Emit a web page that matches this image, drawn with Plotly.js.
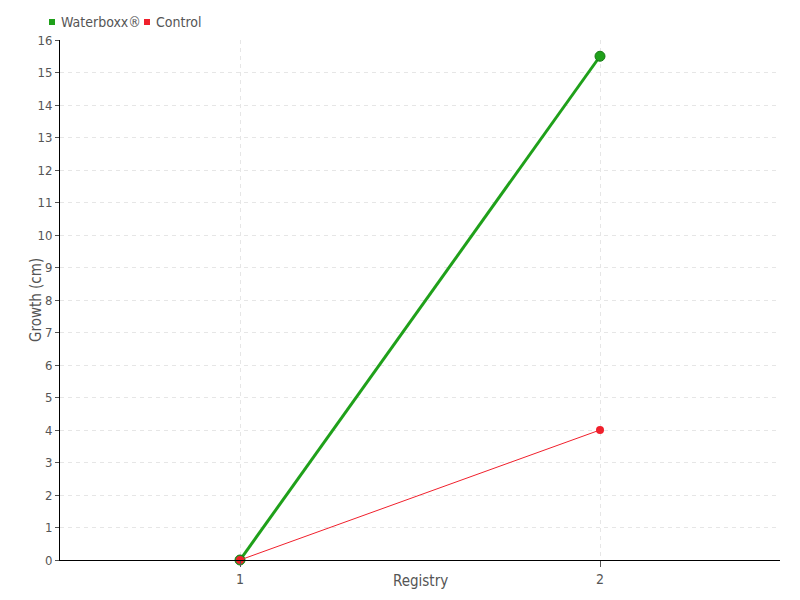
<!DOCTYPE html>
<html><head><meta charset="utf-8">
<script src="https://cdn.plot.ly/plotly-3.0.1.min.js"></script>
<style>html,body{margin:0;padding:0;background:#fff}#chart{width:800px;height:600px}</style>
</head><body><div id="chart"></div>
<script>
const registry = ['1', '2'];
const waterboxx = [0, 15.5];
const control = [0, 4];
const seriesNames = ['Waterboxx®', 'Control'];
const yTicks = [0,1,2,3,4,5,6,7,8,9,10,11,12,13,14,15,16];
const xTitle = 'Registry';
const yTitle = 'Growth (cm)';

const green = '#1fa01a';
const red = '#f0202c';
const colors = [green, red];
const fontFam = '"Liberation Sans Narrow", "DejaVu Sans Condensed", sans-serif';

const traces = [
  {x: registry, y: waterboxx, type: 'scatter', mode: 'lines+markers', name: seriesNames[0],
   line: {color: green, width: 3}, marker: {color: green, size: 10, line: {color: '#177a14', width: 1}},
   showlegend: false, cliponaxis: false},
  {x: registry, y: control, type: 'scatter', mode: 'lines+markers', name: seriesNames[1],
   line: {color: red, width: 1}, marker: {color: red, size: 8},
   showlegend: false, cliponaxis: false}
];

// custom compact legend (text from seriesNames)
const legendX = [59, 154];   // pixel x of legend text starts
const W = 800, H = 600, ML = 60, MR = 20, MT = 40, MB = 40;
const pw = W - ML - MR, ph = H - MT - MB;
const px2x = p => (p - ML) / pw;
const py2y = p => (H - MB - p) / ph;

const annotations = [
  {text: xTitle, xref: 'paper', yref: 'paper', x: 0.5, y: 0, yshift: -21, xanchor: 'center', yanchor: 'middle',
   showarrow: false, font: {size: 15, color: '#555'}},
  {text: yTitle, xref: 'paper', yref: 'paper', x: 0, y: 0.5, xshift: -24, xanchor: 'center', yanchor: 'middle',
   textangle: -90, showarrow: false, font: {size: 15, color: '#555'}}
];
const shapes = [];
seriesNames.forEach((n, i) => {
  annotations.push({text: n, xref: 'paper', yref: 'paper', x: px2x(legendX[i]), y: py2y(22),
    xanchor: 'left', yanchor: 'middle', showarrow: false, font: {size: 14, color: '#555'}});
  shapes.push({type: 'rect', xref: 'paper', yref: 'paper',
    x0: px2x(legendX[i] - 10), x1: px2x(legendX[i] - 4), y0: py2y(25), y1: py2y(19),
    fillcolor: colors[i], line: {width: 0}});
});

const layout = {
  width: W, height: H,
  margin: {l: ML, r: MR, t: MT, b: MB},
  paper_bgcolor: '#fff', plot_bgcolor: '#fff',
  font: {family: fontFam, color: '#555', size: 14},
  showlegend: false,
  xaxis: {type: 'category', range: [-0.5, 1.5], showgrid: true, gridcolor: '#e6e6e6', griddash: '4px,4px',
          showline: true, linecolor: '#000', linewidth: 1, ticks: 'outside', ticklen: 6, tickcolor: '#555',
          zeroline: false, tickfont: {size: 14, color: '#555'}},
  yaxis: {range: [0, 16], tickvals: yTicks, ticktext: yTicks.map(String), showgrid: true, gridcolor: '#e6e6e6', griddash: '4px,4px',
          showline: true, linecolor: '#000', linewidth: 1, ticks: 'outside', ticklen: 4, tickcolor: '#555',
          zeroline: false, tickfont: {size: 13, color: '#555'}},
  annotations: annotations,
  shapes: shapes
};

Plotly.newPlot('chart', traces, layout, {displayModeBar: false, staticPlot: true});
</script></body></html>
